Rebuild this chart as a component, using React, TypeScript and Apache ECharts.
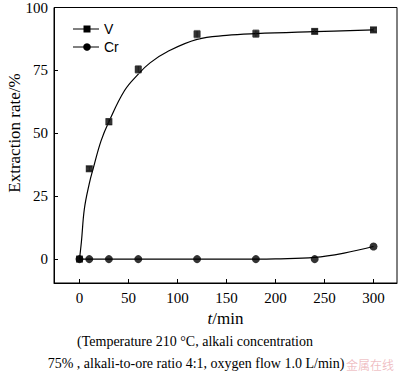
import React, { useEffect, useRef } from "react";
import * as echarts from "echarts";

// Measured data points
const times = [0, 10, 30, 60, 120, 180, 240, 300];
const vValues = [0, 35.9, 54.6, 75.4, 89.4, 89.6, 90.5, 91.1];
const vErrors = [0, 0.8, 1.2, 1.5, 1.5, 1.5, 0.8, 0.8];
const crValues = [0, 0, 0, 0, 0, 0, 0, 5.0];

// Fitted curves
const vFitT = [0, 2, 5, 10, 14, 22, 30, 46, 60, 72, 90, 120, 150, 180, 240, 300];
const vFitY = [0, 7, 20, 30, 36, 47, 54.6, 67, 73.5, 78, 82.5, 87.3, 88.9, 89.6, 90.4, 91.1];
const crFitT = [0, 60, 120, 180, 200, 240, 270, 300];
const crFitY = [0, 0, 0, 0, 0.1, 0.7, 2.4, 5.0];

const xTicks = [0, 50, 100, 150, 200, 250, 300];
const yTicks = [0, 25, 50, 75, 100];

const caption1 = "(Temperature 210 °C, alkali concentration";
const caption2 = "75% , alkali-to-ore ratio 4:1, oxygen flow 1.0 L/min)";

const serif = "'Liberation Serif', 'Times New Roman', serif";
const sans = "'Liberation Sans', Arial, sans-serif";

export default function App() {
  const ref = useRef<HTMLDivElement>(null);
  useEffect(() => {
    document.body.style.margin = "0";
    const chart = echarts.init(ref.current!, null, { renderer: "svg" });
    const option = {
      animation: false,
      backgroundColor: "#fff",
      grid: {
        left: 54,
        right: 3,
        top: 6,
        bottom: 91,
        show: true,
        borderColor: "#000",
        borderWidth: 1,
        backgroundColor: "transparent",
      },
      xAxis: {
        type: "value",
        min: -26,
        max: 324,
        axisLine: { onZero: false, lineStyle: { color: "#000", width: 1 } },
        axisTick: { inside: true, length: 4, customValues: xTicks, lineStyle: { color: "#000" } },
        axisLabel: { customValues: xTicks, color: "#000", fontFamily: serif, fontSize: 15, margin: 7 },
        splitLine: { show: false },
        name: "{i|t}{n|/min}",
        nameLocation: "middle",
        nameGap: 22,
        nameTextStyle: {
          rich: {
            i: { fontFamily: serif, fontSize: 17, fontStyle: "italic", color: "#000" },
            n: { fontFamily: serif, fontSize: 17, color: "#000" },
          },
        },
      },
      yAxis: {
        type: "value",
        min: -9.5,
        max: 100,
        axisLine: { show: true, onZero: false, lineStyle: { color: "#000", width: 1 } },
        axisTick: { show: true, inside: true, length: 4, customValues: yTicks, lineStyle: { color: "#000" } },
        axisLabel: { customValues: yTicks, color: "#000", fontFamily: serif, fontSize: 15, margin: 6 },
        splitLine: { show: false },
      },
      graphic: [
        {
          type: "text",
          x: 14,
          y: 133,
          rotation: Math.PI / 2,
          style: {
            text: "Extraction rate/%",
            fontFamily: serif,
            fontSize: 17,
            fill: "#000",
            align: "center",
            verticalAlign: "middle",
          },
        },
        // legend
        { type: "line", shape: { x1: 73, y1: 29, x2: 99, y2: 29 }, style: { stroke: "#000", lineWidth: 1 } },
        { type: "rect", shape: { x: 83.5, y: 25.5, width: 7, height: 7 }, style: { fill: "#000" } },
        { type: "text", x: 104, y: 29, style: { text: "V", fontFamily: sans, fontSize: 14, fill: "#000", verticalAlign: "middle" } },
        { type: "line", shape: { x1: 73, y1: 47, x2: 99, y2: 47 }, style: { stroke: "#000", lineWidth: 1 } },
        { type: "circle", shape: { cx: 87, cy: 47, r: 3.8 }, style: { fill: "#000" } },
        { type: "text", x: 104, y: 47, style: { text: "Cr", fontFamily: sans, fontSize: 14, fill: "#000", verticalAlign: "middle" } },
        // captions
        { type: "text", x: 195, y: 341, style: { text: caption1, fontFamily: serif, fontSize: 14, fill: "#000", align: "center", verticalAlign: "middle" } },
        { type: "text", x: 196, y: 363, style: { text: caption2, fontFamily: serif, fontSize: 14, fill: "#000", align: "center", verticalAlign: "middle" } },
        { type: "text", x: 346, y: 364, style: { text: "金属在线", fontFamily: "'Noto Sans CJK SC', sans-serif", fontSize: 12, fill: "rgba(220,110,120,0.45)", verticalAlign: "middle" } },
      ],
      series: [
        {
          type: "line",
          data: vFitT.map((t, i) => [t, vFitY[i]]),
          smooth: 0.4,
          showSymbol: false,
          symbol: "none",
          lineStyle: { color: "#000", width: 1.2 },
          z: 2,
        },
        {
          type: "line",
          data: crFitT.map((t, i) => [t, crFitY[i]]),
          smooth: 0.4,
          showSymbol: false,
          symbol: "none",
          lineStyle: { color: "#000", width: 1.2 },
          z: 2,
        },
        {
          type: "custom",
          data: times.map((t, i) => [t, vValues[i], vErrors[i]]),
          renderItem: (params: any, api: any) => {
            const x = api.value(0);
            const y = api.value(1);
            const e = api.value(2);
            if (!e) return null;
            const top = api.coord([x, y + e]);
            const bot = api.coord([x, y - e]);
            const st = { stroke: "#888", lineWidth: 1 };
            return {
              type: "group",
              children: [
                { type: "line", shape: { x1: top[0], y1: top[1], x2: bot[0], y2: bot[1] }, style: st },
                { type: "line", shape: { x1: top[0] - 3, y1: top[1], x2: top[0] + 3, y2: top[1] }, style: st },
                { type: "line", shape: { x1: bot[0] - 3, y1: bot[1], x2: bot[0] + 3, y2: bot[1] }, style: st },
              ],
            };
          },
          z: 3,
        },
        {
          type: "scatter",
          data: times.map((t, i) => [t, vValues[i]]),
          symbol: "rect",
          symbolSize: 7,
          itemStyle: { color: "#000" },
          z: 4,
        },
        {
          type: "scatter",
          data: times.map((t, i) => [t, crValues[i]]),
          symbol: "circle",
          symbolSize: 8,
          itemStyle: { color: "#000" },
          z: 4,
        },
      ],
    };
    chart.setOption(option as any);
    return () => chart.dispose();
  }, []);
  return <div ref={ref} style={{ width: 400, height: 374 }} />;
}
